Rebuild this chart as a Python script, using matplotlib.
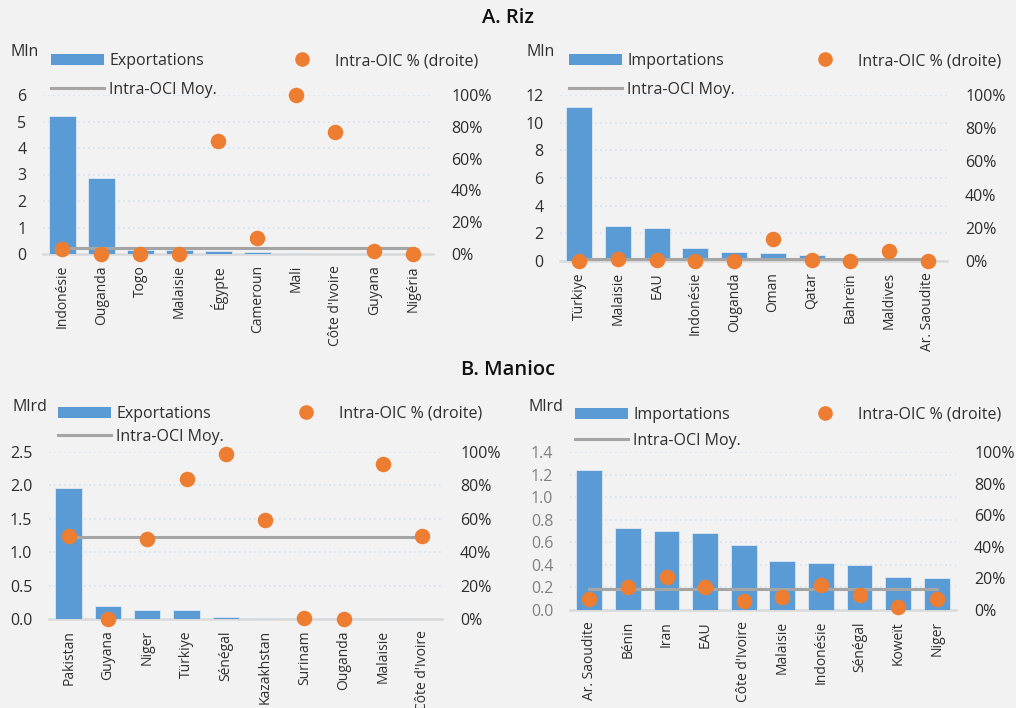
import matplotlib
matplotlib.use("Agg")
import matplotlib.pyplot as plt
from matplotlib.lines import Line2D
from matplotlib.patches import Patch
from matplotlib.ticker import FuncFormatter, MultipleLocator

plt.rcParams['font.family'] = ['Open Sans', 'DejaVu Sans']

# ---- A. Riz : exportations ----
riz_exp_pays = ["Indonésie", "Ouganda", "Togo", "Malaisie", "Égypte", "Cameroun",
                "Mali", "Côte d'Ivoire", "Guyana", "Nigéria"]
riz_exp_val = [5.2, 2.85, 0.15, 0.15, 0.1, 0.07, 0.02, 0.01, 0.005, 0.003]
riz_exp_pct = [3, 0, 0, 0, 71, 10, 100, 77, 2, 0]
riz_exp_moy = 3.5

# ---- A. Riz : importations ----
riz_imp_pays = ["Türkiye", "Malaisie", "EAU", "Indonésie", "Ouganda", "Oman",
                "Qatar", "Bahreïn", "Maldives", "Ar. Saoudite"]
riz_imp_val = [11.1, 2.55, 2.35, 0.95, 0.65, 0.6, 0.4, 0.1, 0.1, 0.1]
riz_imp_pct = [0, 1.5, 0.5, 0, 0, 13, 0.5, 0, 6, 0]
riz_imp_moy = 1.4

# ---- B. Manioc : exportations ----
man_exp_pays = ["Pakistan", "Guyana", "Niger", "Türkiye", "Sénégal", "Kazakhstan",
                "Surinam", "Ouganda", "Malaisie", "Côte d'Ivoire"]
man_exp_val = [1.96, 0.2, 0.13, 0.13, 0.03, 0.02, 0.02, 0.01, 0.005, 0.002]
man_exp_pct = [50, 0, 48, 84, 99, 59, 0.5, 0, 93, 50]
man_exp_moy = 49

# ---- B. Manioc : importations ----
man_imp_pays = ["Ar. Saoudite", "Bénin", "Iran", "EAU", "Côte d'Ivoire", "Malaisie",
                "Indonésie", "Sénégal", "Koweït", "Niger"]
man_imp_val = [1.24, 0.73, 0.70, 0.68, 0.58, 0.43, 0.42, 0.40, 0.29, 0.28]
man_imp_pct = [7.2, 14.3, 21, 14.7, 5.9, 8.2, 15.6, 9.5, 2.1, 7.2]
man_imp_moy = 13.3

BG = "#f2f2f2"
BLUE = "#5b9bd5"
ORANGE = "#ed7d31"
GREY = "#a5a5a5"
TXT = "#2e2e2e"
W, H = 1016, 708
FS = 11.5
FS_CAT = 10

fig = plt.figure(figsize=(W / 100, H / 100), dpi=100, facecolor=BG)


def fx(x):
    return x / W


def fy(y):
    return 1 - y / H


def panel(rect, pays, val, pct, moy, ymax, ystep, yfmt, unit, serie,
          unit_xy, leg_xy, dot_xy, ytick_color=TXT, rowgap=0.8):
    x0, x1, yt, yb = rect
    ax = fig.add_axes([fx(x0), fy(yb), fx(x1 - x0), (yb - yt) / H])
    ax.set_facecolor("none")
    n = len(pays)
    xs = list(range(n))
    ax.bar(xs, val, width=0.67, color=BLUE, edgecolor="#dce7f3",
           linewidth=0.6, zorder=2)
    ax.set_xlim(-0.5, n - 0.5)
    ax.set_ylim(0, ymax)
    ax.yaxis.set_major_locator(MultipleLocator(ystep))
    ax.yaxis.set_major_formatter(FuncFormatter(lambda v, p: format(v, yfmt)))
    ax.grid(axis="y", linestyle=(0, (1, 2)), color="#d3e1f0", linewidth=1.2,
            zorder=0)
    for s in ["top", "right", "left"]:
        ax.spines[s].set_visible(False)
    ax.spines["bottom"].set_color("#d9d9d9")
    ax.spines["bottom"].set_linewidth(1.8)
    ax.spines["bottom"].set_zorder(1)
    ax.set_xticks(xs)
    ax.set_xticklabels(pays, rotation=90, fontsize=FS_CAT, color=TXT)
    ax.tick_params(axis="x", length=0, pad=8)
    ax.tick_params(axis="y", length=0, pad=12, labelsize=FS,
                   labelcolor=ytick_color)

    ax2 = ax.twinx()
    ax2.set_ylim(0, 100)
    ax2.yaxis.set_major_locator(MultipleLocator(20))
    ax2.yaxis.set_major_formatter(FuncFormatter(lambda v, p: f"{v:.0f}%"))
    ax2.tick_params(axis="y", length=0, pad=13, labelsize=FS, labelcolor=TXT)
    for s in ["top", "right", "left", "bottom"]:
        ax2.spines[s].set_visible(False)
    ax2.plot([0, n - 1], [moy, moy], color=GREY, linewidth=2.2, zorder=3)
    ax2.scatter(xs, pct, s=125, color=ORANGE, zorder=4, linewidths=0,
                clip_on=False)

    fig.text(fx(unit_xy[0]), fy(unit_xy[1]), unit, fontsize=FS, color=TXT,
             ha="left", va="center")
    h_bar = Patch(facecolor=BLUE, edgecolor="none")
    h_line = Line2D([], [], color=GREY, linewidth=2.2)
    h_dot = Line2D([], [], marker="o", linestyle="none", color=ORANGE,
                   markersize=9.5)
    fig.legend([h_bar, h_line], [serie, "Intra-OCI Moy."],
               loc="upper left", bbox_to_anchor=(fx(leg_xy[0]), fy(leg_xy[1])),
               frameon=False, fontsize=FS, handlelength=3.3,
               handleheight=0.75, handletextpad=0.35, labelspacing=rowgap,
               borderpad=0, borderaxespad=0, labelcolor=TXT)
    fig.legend([h_dot], ["Intra-OIC % (droite)"], loc="upper left",
               bbox_to_anchor=(fx(dot_xy[0]), fy(dot_xy[1])), frameon=False,
               fontsize=FS, handlelength=0.9, handletextpad=1.6,
               borderpad=0, borderaxespad=0, labelcolor=TXT)
    return ax


panel((43, 433, 95, 254), riz_exp_pays, riz_exp_val, riz_exp_pct, riz_exp_moy,
      6, 1, ".0f", "Mln", "Exportations", (10, 52), (51, 53), (295, 53))
panel((560, 947, 95, 261), riz_imp_pays, riz_imp_val, riz_imp_pct, riz_imp_moy,
      12, 2, ".0f", "Mln", "Importations", (526, 52), (569, 53), (818, 53))
panel((49, 442, 452, 619), man_exp_pays, man_exp_val, man_exp_pct, man_exp_moy,
      2.5, 0.5, ".1f", "Mlrd", "Exportations", (12, 407), (58, 406), (299, 406),
      rowgap=0.45)
panel((570, 956, 452, 610), man_imp_pays, man_imp_val, man_imp_pct, man_imp_moy,
      1.4, 0.2, ".1f", "Mlrd", "Importations", (529, 407), (575, 407), (818, 407),
      ytick_color="#808080", rowgap=0.6)

fig.text(fx(508), fy(18), "A. Riz", fontsize=14.5, fontweight="semibold",
         color="#111111", ha="center", va="center")
fig.text(fx(508), fy(370), "B. Manioc", fontsize=14.5, fontweight="semibold",
         color="#111111", ha="center", va="center")

fig.savefig("out.png", dpi=100, facecolor=BG)
